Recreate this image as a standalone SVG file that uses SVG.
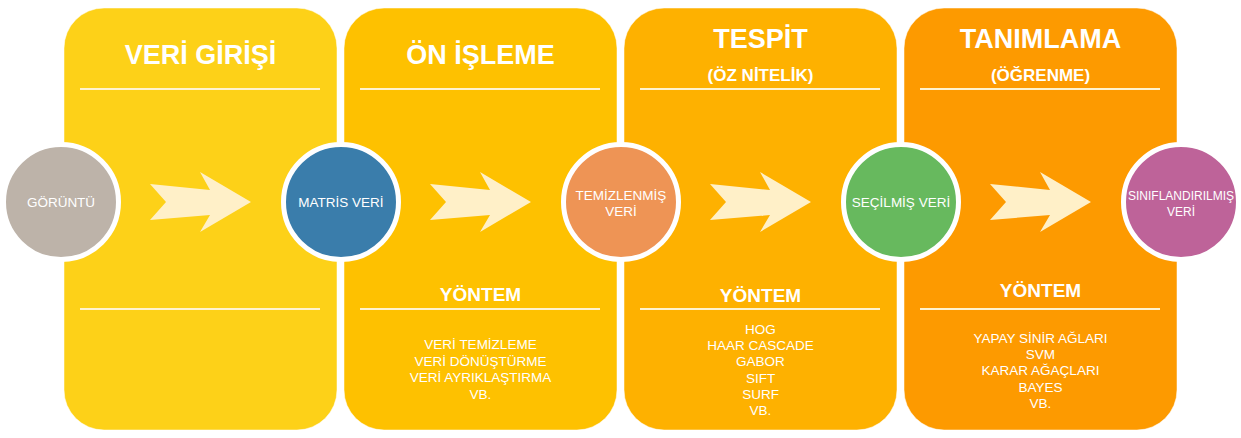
<svg xmlns="http://www.w3.org/2000/svg" width="1241" height="438" viewBox="0 0 1241 438">
<style>
.panel{stroke:#FFFFFF;stroke-opacity:0.5;stroke-width:1}
.rule{stroke:#FFF3CF;stroke-width:2}
.title{font-family:"Liberation Sans",Arial,sans-serif;font-weight:bold;fill:#FFFFFF;text-anchor:middle}
.t1{font-size:27px}
.t2{font-size:17px}
.yt{font-size:19px}
.list{font-family:"Liberation Sans",Arial,sans-serif;font-size:13.5px;fill:#FFFFFF;text-anchor:middle}
.ctext{font-family:"Liberation Sans",Arial,sans-serif;font-size:13.5px;fill:#FFFFFF;text-anchor:middle}
.node{stroke:#FFFFFF;stroke-width:5}
.arrow{fill:#FFF0C8}
</style>
<rect width="1241" height="438" fill="#FFFFFF"/>
<g id="panel-veri-girisi">
<rect class="panel" x="64" y="8" width="273" height="422" rx="40" ry="40" fill="#FDD118"/>
<text class="title t1" x="200.5" y="64">VERİ GİRİŞİ</text>
<line class="rule" x1="80" y1="89" x2="320" y2="89"/>
<line class="rule" x1="80" y1="309" x2="320" y2="309"/>
</g>
<g id="panel-on-isleme">
<rect class="panel" x="344" y="8" width="273" height="422" rx="40" ry="40" fill="#FEC100"/>
<text class="title t1" x="480.5" y="64">ÖN İŞLEME</text>
<line class="rule" x1="360" y1="89" x2="600" y2="89"/>
<text class="title yt" x="480.5" y="301">YÖNTEM</text>
<line class="rule" x1="360" y1="309" x2="600" y2="309"/>
<text class="list" x="480.5" y="349">VERİ TEMİZLEME</text>
<text class="list" x="480.5" y="365.5">VERİ DÖNÜŞTÜRME</text>
<text class="list" x="480.5" y="382">VERİ AYRIKLAŞTIRMA</text>
<text class="list" x="480.5" y="398.5">VB.</text>
</g>
<g id="panel-tespit">
<rect class="panel" x="624" y="8" width="273" height="422" rx="40" ry="40" fill="#FEB100"/>
<text class="title t1" x="760.5" y="48">TESPİT</text>
<text class="title t2" x="760.5" y="81">(ÖZ NİTELİK)</text>
<line class="rule" x1="640" y1="89" x2="880" y2="89"/>
<text class="title yt" x="760.5" y="302">YÖNTEM</text>
<line class="rule" x1="640" y1="309" x2="880" y2="309"/>
<text class="list" x="760.5" y="334">HOG</text>
<text class="list" x="760.5" y="350.2">HAAR CASCADE</text>
<text class="list" x="760.5" y="366.4">GABOR</text>
<text class="list" x="760.5" y="382.6">SIFT</text>
<text class="list" x="760.5" y="398.8">SURF</text>
<text class="list" x="760.5" y="415">VB.</text>
</g>
<g id="panel-tanimlama">
<rect class="panel" x="904" y="8" width="273" height="422" rx="40" ry="40" fill="#FD9A00"/>
<text class="title t1" x="1040.5" y="48">TANIMLAMA</text>
<text class="title t2" x="1040.5" y="81">(ÖĞRENME)</text>
<line class="rule" x1="920" y1="89" x2="1160" y2="89"/>
<text class="title yt" x="1040.5" y="297">YÖNTEM</text>
<line class="rule" x1="920" y1="309" x2="1160" y2="309"/>
<text class="list" x="1040.5" y="343">YAPAY SİNİR AĞLARI</text>
<text class="list" x="1040.5" y="359.2">SVM</text>
<text class="list" x="1040.5" y="375.4">KARAR AĞAÇLARI</text>
<text class="list" x="1040.5" y="391.6">BAYES</text>
<text class="list" x="1040.5" y="407.8">VB.</text>
</g>
<g id="connectors">
<polygon class="arrow" points="150,184 210,190 200,172 251,202 200,232 210,215 150,220 166,202"/>
<polygon class="arrow" points="430,184 490,190 480,172 531,202 480,232 490,215 430,220 446,202"/>
<polygon class="arrow" points="710,184 770,190 760,172 811,202 760,232 770,215 710,220 726,202"/>
<polygon class="arrow" points="990,184 1050,190 1040,172 1091,202 1040,232 1050,215 990,220 1006,202"/>
</g>
<g id="node-goruntu">
<circle class="node" cx="61" cy="202" r="57.5" fill="#BDB3A9"/>
<text class="ctext" x="61" y="207">GÖRÜNTÜ</text>
</g>
<g id="node-matris-veri">
<circle class="node" cx="341" cy="202" r="57.5" fill="#3A7DAB"/>
<text class="ctext" x="341" y="207">MATRİS VERİ</text>
</g>
<g id="node-temizlenmis-veri">
<circle class="node" cx="621" cy="202" r="57.5" fill="#EE9455"/>
<text class="ctext" x="621" y="200">TEMİZLENMİŞ</text>
<text class="ctext" x="621" y="216">VERİ</text>
</g>
<g id="node-secilmis-veri">
<circle class="node" cx="901" cy="202" r="57.5" fill="#67B95E"/>
<text class="ctext" x="901" y="207">SEÇİLMİŞ VERİ</text>
</g>
<g id="node-siniflandirilmis-veri">
<circle class="node" cx="1181" cy="202" r="57.5" fill="#BE6399"/>
<text class="ctext" x="1181" y="200" style="font-size:12px">SINIFLANDIRILMIŞ</text>
<text class="ctext" x="1181" y="216" style="font-size:12px">VERİ</text>
</g>
</svg>
